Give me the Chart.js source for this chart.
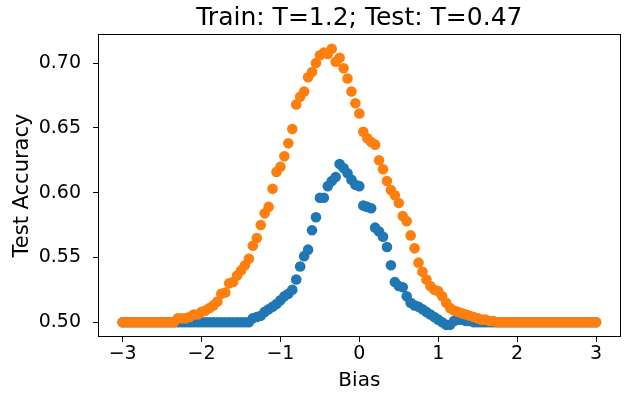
<!DOCTYPE html>
<html>
<head>
<meta charset="utf-8">
<script src="https://cdn.jsdelivr.net/npm/chart.js@4.4.1/dist/chart.umd.min.js"></script>
<style>
  html, body { margin: 0; padding: 0; background: #fff; }
  #wrap { width: 625px; height: 393px; }
</style>
</head>
<body>
<div id="wrap"><canvas id="c" width="625" height="393"></canvas></div>
<script>
const chartTitle = "Train: T=1.2; Test: T=0.47";
const xLabel = "Bias";
const yLabel = "Test Accuracy";

const bias = [
  -3,-2.95,-2.9,-2.85,-2.8,-2.75,-2.7,-2.65,-2.6,-2.55,
  -2.5,-2.45,-2.4,-2.35,-2.3,-2.25,-2.2,-2.15,-2.1,-2.05,
  -2,-1.95,-1.9,-1.85,-1.8,-1.75,-1.7,-1.65,-1.6,-1.55,
  -1.5,-1.45,-1.4,-1.35,-1.3,-1.25,-1.2,-1.15,-1.1,-1.05,
  -1,-0.95,-0.9,-0.85,-0.8,-0.75,-0.7,-0.65,-0.6,-0.55,
  -0.5,-0.45,-0.4,-0.35,-0.3,-0.25,-0.2,-0.15,-0.1,-0.05,
  0,0.05,0.1,0.15,0.2,0.25,0.3,0.35,0.4,0.45,
  0.5,0.55,0.6,0.65,0.7,0.75,0.8,0.85,0.9,0.95,
  1,1.05,1.1,1.15,1.2,1.25,1.3,1.35,1.4,1.45,
  1.5,1.55,1.6,1.65,1.7,1.75,1.8,1.85,1.9,1.95,
  2,2.05,2.1,2.15,2.2,2.25,2.3,2.35,2.4,2.45,
  2.5,2.55,2.6,2.65,2.7,2.75,2.8,2.85,2.9,2.95,
  3
];

const accuracyBlue = [
  0.5,0.5,0.5,0.5,0.5,0.5,0.5,0.5,0.5,0.5,
  0.5,0.5,0.5,0.5,0.5,0.5,0.5,0.5,0.5,0.5,
  0.5,0.5,0.5,0.5,0.5,0.5,0.5,0.5,0.5,0.5,
  0.5,0.5,0.5,0.503,0.504,0.505,0.508,0.510,0.512,0.514,
  0.517,0.520,0.522,0.525,0.533,0.543,0.551,0.556,0.571,0.581,
  0.596,0.596,0.605,0.609,0.612,0.622,0.619,0.615,0.610,0.606,
  0.605,0.590,0.589,0.588,0.573,0.570,0.566,0.558,0.544,0.531,
  0.528,0.527,0.520,0.515,0.513,0.512,0.510,0.508,0.506,0.504,
  0.502,0.500,0.498,0.498,0.501,0.502,0.502,0.501,0.501,0.500,
  0.5,0.5,0.5,0.5,0.5,0.5,0.5,0.5,0.5,0.5,
  0.5,0.5,0.5,0.5,0.5,0.5,0.5,0.5,0.5,0.5,
  0.5,0.5,0.5,0.5,0.5,0.5,0.5,0.5,0.5,0.5,
  0.5
];

const accuracyOrange = [
  0.5,0.5,0.5,0.5,0.5,0.5,0.5,0.5,0.5,0.5,
  0.5,0.5,0.5,0.5,0.503,0.503,0.503,0.504,0.506,0.506,
  0.508,0.509,0.511,0.513,0.516,0.522,0.523,0.530,0.531,0.536,
  0.540,0.544,0.549,0.559,0.565,0.575,0.584,0.589,0.603,0.616,
  0.620,0.628,0.638,0.649,0.668,0.674,0.678,0.689,0.693,0.700,
  0.706,0.708,0.707,0.711,0.701,0.704,0.696,0.688,0.678,0.669,
  0.661,0.647,0.642,0.639,0.637,0.625,0.618,0.609,0.602,0.598,
  0.592,0.582,0.578,0.567,0.557,0.546,0.539,0.533,0.528,0.525,
  0.524,0.520,0.515,0.511,0.509,0.508,0.507,0.506,0.505,0.504,
  0.503,0.502,0.502,0.501,0.501,0.5,0.5,0.5,0.5,0.5,
  0.5,0.5,0.5,0.5,0.5,0.5,0.5,0.5,0.5,0.5,
  0.5,0.5,0.5,0.5,0.5,0.5,0.5,0.5,0.5,0.5,
  0.5
];

const xTicks = [-3, -2, -1, 0, 1, 2, 3];
const yTicks = [0.50, 0.55, 0.60, 0.65, 0.70];

const FONT = "'DejaVu Sans', 'Liberation Sans', sans-serif";
const BLUE = '#1f77b4';
const ORANGE = '#ff7f0e';

const frame = {
  id: 'frame',
  afterDatasetsDraw(chart) {
    const a = chart.chartArea;
    const ctx = chart.ctx;
    ctx.save();
    ctx.strokeStyle = '#000';
    ctx.lineWidth = 1;
    ctx.strokeRect(Math.round(a.left) - 0.5, Math.round(a.top) - 0.5,
                   Math.round(a.right - a.left) + 1, Math.round(a.bottom - a.top) + 1);
    ctx.restore();
  }
};

new Chart(document.getElementById('c'), {
  type: 'scatter',
  data: {
    datasets: [
      {
        label: 'blue',
        data: bias.map((x, i) => ({ x: x, y: accuracyBlue[i] })),
        backgroundColor: BLUE,
        borderColor: BLUE,
        borderWidth: 0,
        pointRadius: 5.3,
        order: 1
      },
      {
        label: 'orange',
        data: bias.map((x, i) => ({ x: x, y: accuracyOrange[i] })),
        backgroundColor: ORANGE,
        borderColor: ORANGE,
        borderWidth: 0,
        pointRadius: 5.3,
        order: 0
      }
    ]
  },
  options: {
    responsive: false,
    animation: false,
    devicePixelRatio: 1,
    layout: { padding: { left: 0, right: 3, top: 0, bottom: 0 } },
    plugins: {
      legend: { display: false },
      tooltip: { enabled: false },
      title: {
        display: true,
        text: chartTitle,
        fullSize: false,
        color: '#000',
        font: { family: FONT, size: 25, weight: 'normal', lineHeight: 1.2 },
        padding: { top: 3, bottom: 2 }
      }
    },
    scales: {
      x: {
        type: 'linear',
        min: -3.3,
        max: 3.3,
        afterBuildTicks: (s) => { s.ticks = xTicks.map(v => ({ value: v })); },
        afterFit: (s) => { s.height = 57; },
        border: { display: false },
        grid: { display: true, drawOnChartArea: false, drawTicks: true, tickLength: 6, color: '#000', lineWidth: 1 },
        ticks: {
          color: '#000',
          padding: 1,
          maxRotation: 0,
          font: { family: FONT, size: 19 },
          callback: (v) => (v < 0 ? '\u2212' + Math.abs(v) : String(v))
        },
        title: {
          display: true,
          text: xLabel,
          color: '#000',
          font: { family: FONT, size: 20, lineHeight: 1.2 },
          padding: { top: 0, bottom: 0 }
        }
      },
      y: {
        type: 'linear',
        min: 0.4894,
        max: 0.7216,
        afterBuildTicks: (s) => { s.ticks = yTicks.map(v => ({ value: v })); },
        afterFit: (s) => { s.width = 99; },
        border: { display: false },
        grid: { display: true, drawOnChartArea: false, drawTicks: true, tickLength: 6, color: '#000', lineWidth: 1 },
        ticks: {
          color: '#000',
          padding: 12,
          font: { family: FONT, size: 19 },
          callback: (v) => Number(v).toFixed(2)
        },
        title: {
          display: true,
          text: yLabel,
          color: '#000',
          font: { family: FONT, size: 21, lineHeight: 1.2 },
          padding: { top: 10, bottom: 0 }
        }
      }
    }
  },
  plugins: [frame]
});
</script>
</body>
</html>
